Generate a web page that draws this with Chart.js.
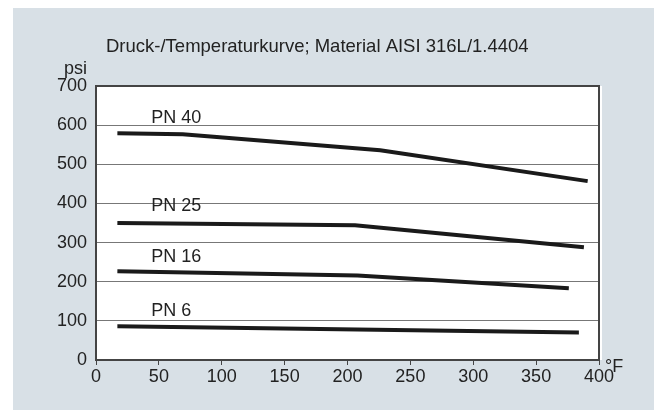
<!DOCTYPE html>
<html>
<head>
<meta charset="utf-8">
<script src="https://cdn.jsdelivr.net/npm/chart.js@4"></script>
<style>
  html, body { margin: 0; padding: 0; background: #fff; }
  #wrap { position: relative; width: 654px; height: 410px; }
  #chart { display: block; }
</style>
</head>
<body>
<div id="wrap"><canvas id="chart" width="654" height="410"></canvas></div>
<script>
// temperature (°F) / pressure (psi) points per pressure class
const pn40Temp = [17, 69, 226, 391];
const pn40Psi = [579, 577, 536, 457];
const pn25Temp = [17, 206, 388];
const pn25Psi = [350, 344, 288];
const pn16Temp = [17, 208, 376];
const pn16Psi = [227, 216, 183];
const pn6Temp = [17, 384];
const pn6Psi = [86, 70];

const seriesNames = ['PN 40', 'PN 25', 'PN 16', 'PN 6'];
const labelTemp = [44, 44, 44, 44];
const labelPsi = [618, 393, 262, 124];

const yTicks = [0, 100, 200, 300, 400, 500, 600, 700];
const xTicks = [0, 50, 100, 150, 200, 250, 300, 350, 400];

const titleText = 'Druck-/Temperaturkurve; Material AISI 316L/1.4404';
const yUnit = 'psi';
const xUnit = '°F';

const FONT = 'Liberation Sans, Arial, sans-serif';
const TEXT = '#222';

const toPoints = (xs, ys) => xs.map((x, i) => ({ x: x, y: ys[i] }));

const lineStyle = {
    borderColor: '#1a1a1a',
    borderWidth: 4,
    pointRadius: 0,
    tension: 0,
    fill: false,
    borderCapStyle: 'butt'
};

// gray panel, white plot area, frame and free texts
const decor = {
    id: 'decor',
    beforeDraw(chart) {
        const ctx = chart.ctx;
        const a = chart.chartArea;
        ctx.save();
        ctx.fillStyle = '#d8e0e6';
        ctx.fillRect(13, 8, chart.width - 13, chart.height - 8);
        ctx.fillStyle = '#ffffff';
        ctx.fillRect(a.left, a.top, a.right - a.left + 3, a.bottom - a.top);
        ctx.restore();
    },
    afterDraw(chart) {
        const ctx = chart.ctx;
        const a = chart.chartArea;
        const xs = chart.scales.x;
        const ys = chart.scales.y;
        ctx.save();
        ctx.strokeStyle = '#444';
        ctx.lineWidth = 2;
        ctx.strokeRect(a.left, a.top, a.right - a.left, a.bottom - a.top);

        ctx.fillStyle = TEXT;
        ctx.textBaseline = 'middle';
        ctx.textAlign = 'left';
        ctx.font = '18.5px ' + FONT;
        ctx.fillText(titleText, a.left + 10, 47);
        ctx.font = '18px ' + FONT;
        seriesNames.forEach((name, i) => {
            ctx.fillText(name, xs.getPixelForValue(labelTemp[i]), ys.getPixelForValue(labelPsi[i]));
        });
        ctx.fillText(xUnit, a.right + 6, a.bottom + 7);
        ctx.textAlign = 'right';
        ctx.fillText(yUnit, a.left - 9, 69);
        ctx.restore();
    }
};

new Chart(document.getElementById('chart'), {
    type: 'line',
    data: {
        datasets: [
            { label: seriesNames[0], data: toPoints(pn40Temp, pn40Psi), ...lineStyle },
            { label: seriesNames[1], data: toPoints(pn25Temp, pn25Psi), ...lineStyle },
            { label: seriesNames[2], data: toPoints(pn16Temp, pn16Psi), ...lineStyle },
            { label: seriesNames[3], data: toPoints(pn6Temp, pn6Psi), ...lineStyle }
        ]
    },
    options: {
        responsive: false,
        animation: false,
        events: [],
        layout: {
            padding: { top: 86, right: 55, left: 0, bottom: 0 }
        },
        scales: {
            x: {
                type: 'linear',
                min: 0,
                max: 400,
                afterBuildTicks: scale => { scale.ticks = xTicks.map(v => ({ value: v })); },
                afterFit: scale => { scale.height = 50; },
                grid: {
                    drawOnChartArea: false,
                    drawTicks: true,
                    tickLength: 5,
                    color: '#444',
                    lineWidth: 1
                },
                border: { color: '#444', width: 2 },
                ticks: {
                    color: TEXT,
                    padding: 1,
                    maxRotation: 0,
                    font: { family: FONT, size: 18 }
                }
            },
            y: {
                min: 0,
                max: 700,
                afterBuildTicks: scale => { scale.ticks = yTicks.map(v => ({ value: v })); },
                afterFit: scale => { scale.width = 96; },
                grid: {
                    color: '#777',
                    lineWidth: 1,
                    drawTicks: false
                },
                border: { color: '#444', width: 2 },
                ticks: {
                    color: TEXT,
                    padding: 9,
                    font: { family: FONT, size: 18 }
                }
            }
        },
        plugins: {
            legend: { display: false },
            tooltip: { enabled: false }
        }
    },
    plugins: [decor]
});
</script>
</body>
</html>
